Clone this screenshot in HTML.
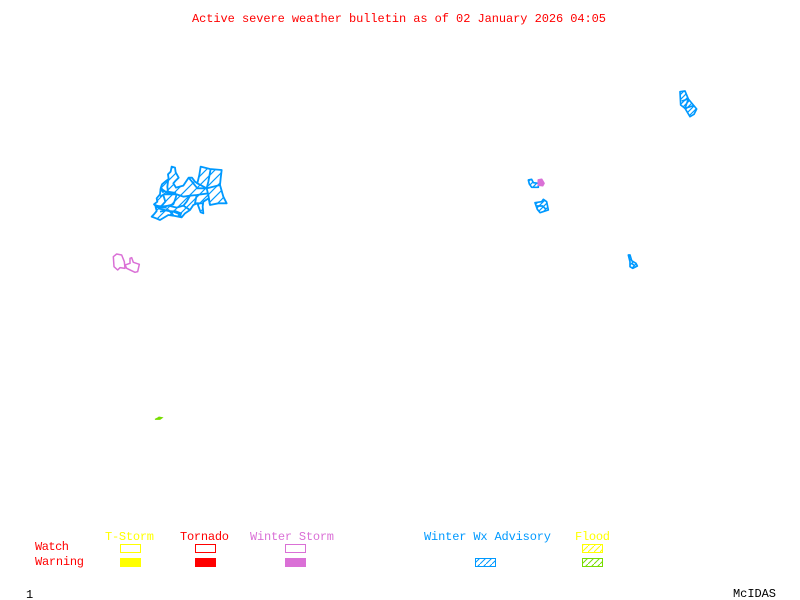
<!DOCTYPE html>
<html>
<head>
<meta charset="utf-8">
<style>
html,body{margin:0;padding:0;background:#fff;width:800px;height:600px;overflow:hidden}
svg{display:block}
text{font-family:"Liberation Mono",monospace;font-size:12px}
</style>
</head>
<body>
<svg width="800" height="600" viewBox="0 0 800 600" xmlns="http://www.w3.org/2000/svg">
<defs>
<pattern id="h" patternUnits="userSpaceOnUse" width="27" height="27">
<path d="M-3 3L3 -3M0 27L27 0M24 30L30 24" stroke="#0099ff" stroke-width="3.5" fill="none"/>
</pattern>
<pattern id="hs" patternUnits="userSpaceOnUse" width="15" height="15">
<path d="M-3 3L3 -3M0 15L15 0M12 18L18 12" stroke="#0099ff" stroke-width="3.5" fill="none"/>
</pattern>
<pattern id="lb" patternUnits="userSpaceOnUse" width="6" height="6">
<path d="M0 6L6 0" stroke="#0099ff" stroke-width="1" fill="none"/>
</pattern>
<pattern id="ly" patternUnits="userSpaceOnUse" width="6" height="6">
<path d="M0 6L6 0" stroke="#ffff00" stroke-width="1" fill="none"/>
</pattern>
<pattern id="lg" patternUnits="userSpaceOnUse" width="6" height="6">
<path d="M0 6L6 0" stroke="#77dd00" stroke-width="1" fill="none"/>
</pattern>
</defs>

<text x="192" y="22" fill="#ff0000" textLength="414" lengthAdjust="spacing">Active severe weather bulletin as of 02 January 2026 04:05</text>

<!-- main blob -->
<g transform="translate(140,155) scale(0.3333)" fill="url(#h)" stroke="#0099ff" stroke-width="5.5" stroke-linejoin="round">
<polygon points="35,185 42,178 50,168 46,152 42,148 52,140 50,130 60,118 62,100 66,88 78,78 86,72 84,58 92,50 95,35 105,38 107,52 116,68 106,78 100,85 108,98 130,92 138,80 146,68 156,68 165,80 172,85 178,60 182,35 210,42 245,45 242,70 240,90 250,125 260,145 235,145 210,150 206,130 190,140 188,155 190,175 182,172 172,145 160,150 150,165 135,175 125,187 100,182 85,180 60,195 48,190"/>
<g fill="none">
<polyline points="45,150 62,156 85,152 110,158 130,152 150,165"/>
<polyline points="55,160 85,168 110,170 125,187"/>
<polyline points="60,170 85,165 100,180"/>
<polyline points="62,100 80,112 85,118 110,118 105,135 100,148 85,152"/>
<polyline points="60,125 72,118 85,118"/>
<polyline points="85,72 82,95 85,118"/>
<polyline points="70,120 76,140 62,156"/>
<polyline points="146,68 160,85 172,100 200,100 240,90"/>
<polyline points="172,85 200,100 205,120 210,150"/>
<polyline points="110,118 130,125 150,122 170,120 205,115"/>
<polyline points="150,122 140,140 130,152"/>
<polyline points="170,120 165,145 188,145"/>
<polyline points="212,42 205,80 200,100"/>
</g>
<g fill="none" stroke-width="9">
<polyline points="85,112 108,116"/>
<polyline points="48,155 80,156"/>
<polyline points="62,100 72,112"/>
<polyline points="100,168 125,178"/>
</g>
</g>

<!-- top right -->
<g transform="translate(670,85) scale(0.3333)" fill="url(#hs)" stroke="#0099ff" stroke-width="5" stroke-linejoin="round">
<polygon points="30,20 45,18 55,42 80,72 72,88 60,95 45,70 32,60"/>
<polyline fill="none" points="35,48 55,42 45,70 70,62"/>
</g>

<!-- centre right -->
<g transform="translate(520,170) scale(0.3333)" stroke-width="5" stroke-linejoin="round">
<polygon fill="url(#hs)" stroke="#0099ff" points="25,30 35,28 40,38 55,40 55,52 35,52 28,42"/>
<polygon fill="#da70d6" stroke="#da70d6" points="55,30 65,28 72,40 68,47 55,45"/>
<polygon fill="url(#hs)" stroke="#0099ff" points="45,98 65,95 70,88 80,95 85,120 60,128 52,118"/>
<polyline fill="none" stroke="#0099ff" points="50,108 68,108 78,118 M65,95 68,108 60,128"/>
</g>

<!-- small east -->
<g transform="translate(620,250) scale(0.3333)" fill="url(#hs)" stroke="#0099ff" stroke-width="5" stroke-linejoin="round">
<polygon points="25,15 30,15 35,32 48,40 52,48 38,55 30,50 30,35"/>
<polyline fill="none" points="35,40 45,48"/>
</g>

<!-- winter storm outline -->
<g transform="translate(105,245) scale(0.3333)" fill="none" stroke="#da70d6" stroke-width="4.5" stroke-linejoin="round">
<polygon points="25,35 35,27 50,30 58,50 60,70 45,68 38,75 27,65"/>
<polygon points="75,40 80,38 85,52 103,58 98,80 90,82 65,70 60,60 75,55"/>
</g>

<!-- green sliver -->
<g transform="translate(145,410) scale(0.3333)">
<polygon fill="#77dd00" stroke="#77dd00" stroke-width="3" points="30,28 38,24 42,21 52,23 45,28"/>
</g>

<!-- legend labels -->
<text x="35" y="550" fill="#ff0000" textLength="34" lengthAdjust="spacing">Watch</text>
<text x="35" y="565" fill="#ff0000" textLength="49" lengthAdjust="spacing">Warning</text>
<text x="105" y="540" fill="#ffff00" textLength="49" lengthAdjust="spacing">T-Storm</text>
<text x="180" y="540" fill="#ff0000" textLength="49" lengthAdjust="spacing">Tornado</text>
<text x="250" y="540" fill="#da70d6" textLength="84" lengthAdjust="spacing">Winter Storm</text>
<text x="424" y="540" fill="#0099ff" textLength="127" lengthAdjust="spacing">Winter Wx Advisory</text>
<text x="575" y="540" fill="#ffff00" textLength="35" lengthAdjust="spacing">Flood</text>

<!-- legend swatches -->
<g shape-rendering="crispEdges" stroke-width="1">
<rect x="120.5" y="544.5" width="20" height="8" fill="none" stroke="#ffff00"/>
<rect x="195.5" y="544.5" width="20" height="8" fill="none" stroke="#ff0000"/>
<rect x="285.5" y="544.5" width="20" height="8" fill="none" stroke="#da70d6"/>
<rect x="120" y="558" width="21" height="9" fill="#ffff00"/>
<rect x="195" y="558" width="21" height="9" fill="#ff0000"/>
<rect x="285" y="558" width="21" height="9" fill="#da70d6"/>
<rect x="475.5" y="558.5" width="20" height="8" fill="url(#lb)" stroke="#0099ff"/>
<rect x="582.5" y="544.5" width="20" height="8" fill="url(#ly)" stroke="#ffff00"/>
<rect x="582.5" y="558.5" width="20" height="8" fill="url(#lg)" stroke="#77dd00"/>
</g>

<text x="26" y="598" fill="#000000">1</text>
<text x="733" y="597" fill="#000000" textLength="43" lengthAdjust="spacing">McIDAS</text>
</svg>
</body>
</html>
